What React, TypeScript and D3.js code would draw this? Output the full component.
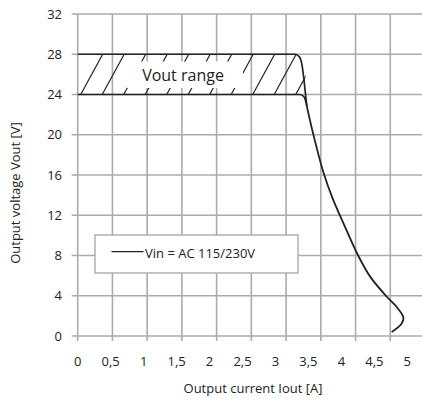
import React from "react";
import * as d3 from "d3";

const W = 422;
const H = 403;

// Tick values
const xTicks = [0, 0.5, 1, 1.5, 2, 2.5, 3, 3.5, 4, 4.5, 5];
const xTickLabels = ["0", "0,5", "1", "1,5", "2", "2,5", "3", "3,5", "4", "4,5", "5"];
const yTicks = [0, 4, 8, 12, 16, 20, 24, 28, 32];

// Vout range band boundaries [A, V]
const upperBound: [number, number][] = [
  [0, 28], [3.13, 28], [3.19, 27.75], [3.23, 26.9], [3.26, 25.3], [3.28, 24.0], [3.3, 22.8],
];
const lowerBound: [number, number][] = [
  [0, 24], [3.2, 24], [3.26, 23.75], [3.3, 22.8],
];
// Current-limit characteristic (Vin = AC 115/230V)
const mainCurve: [number, number][] = [
  [3.3, 22.8], [3.39, 20.1], [3.54, 16.2], [3.68, 13.5], [3.82, 11.3], [4.03, 8.1],
  [4.21, 5.9], [4.45, 3.9], [4.59, 2.9], [4.69, 1.8], [4.66, 1.2], [4.52, 0.4],
];

const bandRange = { vLow: 24, vHigh: 28, iMax: 3.28 };
const labels = {
  band: "Vout range",
  legend: "Vin = AC 115/230V",
  xTitle: "Output current Iout [A]",
  yTitle: "Output voltage Vout [V]",
};

const FONT = "'Open Sans', 'Noto Sans', sans-serif";

export default function App() {
  const x = d3.scaleLinear().domain([0, 5]).range([77.7, 425]);
  const xLab = d3.scaleLinear().domain([0, 5]).range([77.7, 407.3]);
  const y = d3.scaleLinear().domain([0, 32]).range([336, 14]);

  const bandLine = d3
    .line<[number, number]>()
    .x((d) => x(d[0]))
    .y((d) => y(d[1]))
    .curve(d3.curveMonotoneX);

  const line = d3
    .line<[number, number]>()
    .x((d) => x(d[0]))
    .y((d) => y(d[1]))
    .curve(d3.curveCatmullRom.alpha(0.5));

  const gridColor = "#ababab";
  const ink = "#222";
  const textInk = "#222";

  const yTop = y(bandRange.vHigh);
  const yBot = y(bandRange.vLow);
  const bandX0 = x(0);
  const bandX1 = x(bandRange.iMax);
  const hatchDx = 22;
  const hatchStarts = d3.range(bandX0 + 3, bandX1 + 5, 21.5);

  const textBox = { x0: 127, x1: 243, y0: 61.5, y1: 88 };

  return (
    <svg
      width={W}
      height={H}
      style={{ position: "absolute", left: 0, top: 0, background: "#fff" }}
      fontFamily={FONT}
    >
      <defs>
        <clipPath id="bandClip">
          <rect x={bandX0} y={yTop} width={bandX1 - bandX0} height={yBot - yTop} />
        </clipPath>
      </defs>
      <rect x={0} y={0} width={W} height={H} fill="#fff" />

      {/* grid */}
      <g stroke={gridColor} strokeWidth={1.6}>
        {xTicks.map((t) => (
          <line key={"vx" + t} x1={x(t)} x2={x(t)} y1={y(32)} y2={y(0) + 5} />
        ))}
        {yTicks.map((t) => (
          <line key={"hy" + t} x1={x(0) - 6} x2={W} y1={y(t)} y2={y(t)} />
        ))}
      </g>

      {/* hatched band */}
      <g clipPath="url(#bandClip)" stroke={ink} strokeWidth={1.2}>
        {hatchStarts.map((bx, i) => (
          <line key={"h" + i} x1={bx} y1={yBot} x2={bx + hatchDx} y2={yTop} />
        ))}
      </g>
      <rect
        x={textBox.x0}
        y={textBox.y0}
        width={textBox.x1 - textBox.x0}
        height={textBox.y1 - textBox.y0}
        fill="#fff"
      />
      <text x={(textBox.x0 + textBox.x1) / 2 - 2} y={81} textAnchor="middle" fontSize={16} fill={textInk}>
        {labels.band}
      </text>

      <path d={bandLine(upperBound) || ""} fill="none" stroke={ink} strokeWidth={1.7} />
      <path d={bandLine(lowerBound) || ""} fill="none" stroke={ink} strokeWidth={1.7} />
      <path d={line(mainCurve) || ""} fill="none" stroke={ink} strokeWidth={1.8} />

      {/* legend */}
      <rect x={95} y={235} width={203} height={38} fill="#fff" stroke={gridColor} strokeWidth={1.4} />
      <line x1={111.5} x2={143.5} y1={251.7} y2={251.7} stroke={ink} strokeWidth={1.3} />
      <text x={145} y={258} fontSize={13} fill={textInk}>
        {labels.legend}
      </text>

      {/* tick labels */}
      <g fontSize={13} fill={textInk}>
        {yTicks.map((t) => (
          <text key={"yl" + t} x={62} y={y(t) + 4.5} textAnchor="end">
            {t}
          </text>
        ))}
        {xTicks.map((t, i) => (
          <text key={"xl" + t} x={xLab(t)} y={366} textAnchor="middle">
            {xTickLabels[i]}
          </text>
        ))}
      </g>

      {/* axis titles */}
      <text x={253} y={393} textAnchor="middle" fontSize={13} fill={textInk}>
        {labels.xTitle}
      </text>
      <text
        transform={`translate(20,193) rotate(-90)`}
        textAnchor="middle"
        fontSize={13}
        fill={textInk}
      >
        {labels.yTitle}
      </text>
    </svg>
  );
}
